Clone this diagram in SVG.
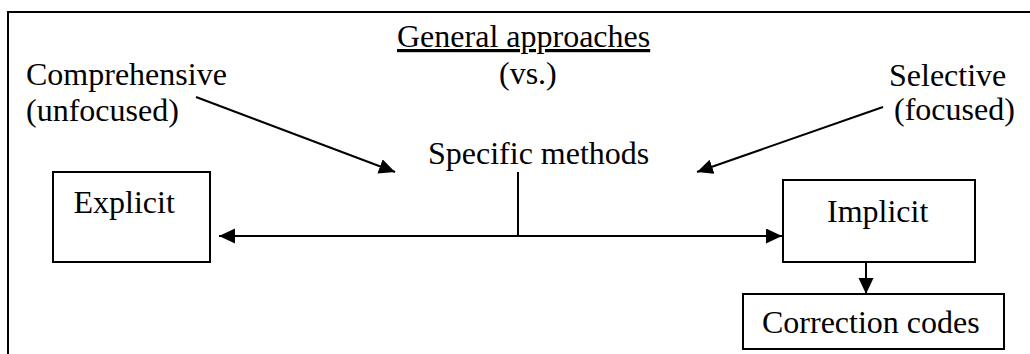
<svg xmlns="http://www.w3.org/2000/svg" width="1030" height="354" viewBox="0 0 1030 354">
  <style>
    .t { font-family: "Liberation Serif", "Times New Roman", serif; font-size: 32px; fill: #000; }
    .box { fill: #fff; stroke: #000; stroke-width: 2; }
    .ln { fill: none; stroke: #000; stroke-width: 2; }
  </style>
  <defs>
    <marker id="head" markerUnits="userSpaceOnUse" markerWidth="18" markerHeight="16" refX="16" refY="7.5" orient="auto-start-reverse">
      <path d="M0,0 L16,7.5 L0,15 z" fill="#000"/>
    </marker>
  </defs>
  <rect width="1030" height="354" fill="#fff"/>

  <!-- outer frame (open at right and bottom) -->
  <path class="ln" d="M8,354 V12 H1030"/>

  <g id="general">
    <text class="t" x="397" y="47" text-decoration="underline">General approaches</text>
    <text class="t" x="499" y="84">(vs.)</text>
  </g>
  <g id="comprehensive">
    <text class="t" x="26" y="85">Comprehensive</text>
    <text class="t" x="26" y="121">(unfocused)</text>
  </g>
  <g id="selective">
    <text class="t" x="889" y="86">Selective</text>
    <text class="t" x="894" y="120">(focused)</text>
  </g>
  <g id="specific">
    <text class="t" x="428" y="164">Specific methods</text>
  </g>
  <g id="explicit">
    <rect class="box" x="53" y="172" width="157" height="90"/>
    <text class="t" x="73.5" y="213">Explicit</text>
  </g>
  <g id="implicit">
    <rect class="box" x="783" y="180" width="192" height="82"/>
    <text class="t" x="827" y="222">Implicit</text>
  </g>
  <g id="codes">
    <rect class="box" x="743" y="294" width="261" height="55"/>
    <text class="t" x="762" y="333">Correction codes</text>
  </g>

  <g id="connectors">
    <line class="ln" x1="196" y1="97" x2="395" y2="172" marker-end="url(#head)"/>
    <line class="ln" x1="883" y1="107" x2="697" y2="172" marker-end="url(#head)"/>
    <line class="ln" x1="518" y1="172" x2="518" y2="236"/>
    <line class="ln" x1="219" y1="236" x2="782" y2="236" marker-start="url(#head)" marker-end="url(#head)"/>
    <line class="ln" x1="866" y1="262" x2="866" y2="294" marker-end="url(#head)"/>
  </g>
</svg>
